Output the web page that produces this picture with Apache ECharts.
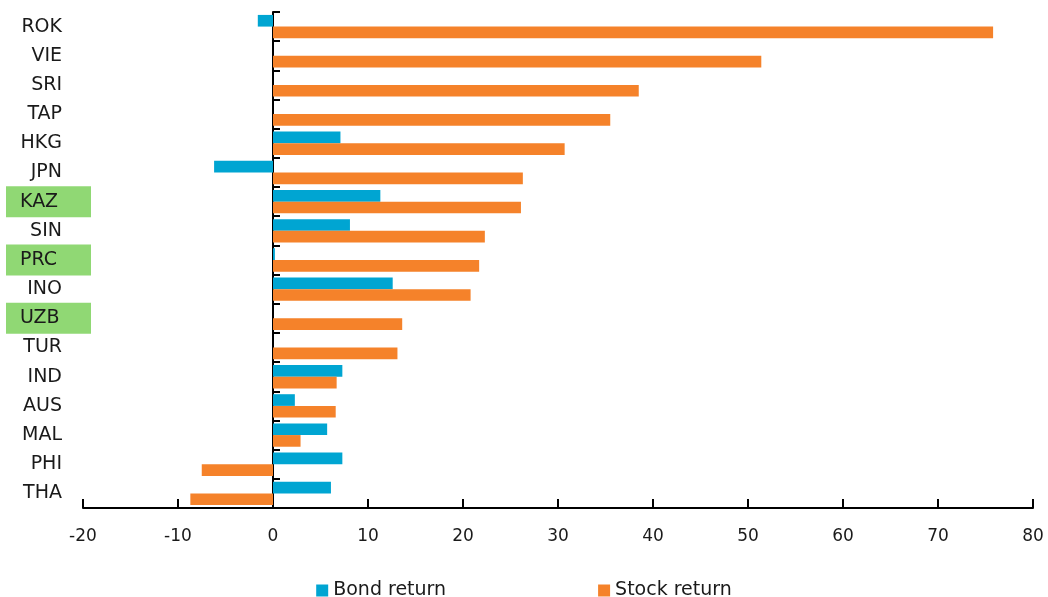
<!DOCTYPE html>
<html>
<head>
<meta charset="utf-8" />
<title>Bond and stock returns</title>
<script src="https://cdn.jsdelivr.net/npm/echarts@6/dist/echarts.min.js"></script>
<style>
  html, body { margin: 0; padding: 0; background: #fff; }
</style>
</head>
<body>
<div id="chart" style="width:1048px;height:597px;"></div>
<script type="text/javascript">
    // economies, top to bottom
    const economies = ['ROK', 'VIE', 'SRI', 'TAP', 'HKG', 'JPN', 'KAZ', 'SIN', 'PRC',
                       'INO', 'UZB', 'TUR', 'IND', 'AUS', 'MAL', 'PHI', 'THA'];
    const bondReturn = [-1.6, 0, 0, 0, 7.1, -6.2, 11.3, 8.1, 0.2,
                        12.6, 0, 0, 7.3, 2.3, 5.7, 7.3, 6.1];
    const stockReturn = [75.8, 51.4, 38.5, 35.5, 30.7, 26.3, 26.1, 22.3, 21.7,
                         20.8, 13.6, 13.1, 6.7, 6.6, 2.9, -7.5, -8.7];
    // labels with green background
    const highlighted = ['KAZ', 'PRC', 'UZB'];

    const fontFamily = 'DejaVu Sans';
    const textColor = '#1a1a1a';

    const myChart = echarts.init(document.getElementById('chart'));
    const option = {
        textStyle: { fontFamily: fontFamily },
        grid: { left: 83, right: 15, top: 12, bottom: 89 },
        legend: {
            left: 'center',
            top: 576,
            itemWidth: 12,
            itemHeight: 12,
            itemGap: 152,
            icon: 'rect',
            textStyle: { fontSize: 19, color: textColor, fontFamily: fontFamily },
            data: ['Bond return', 'Stock return']
        },
        xAxis: {
            type: 'value',
            min: -20,
            max: 80,
            interval: 10,
            splitLine: { show: false },
            axisLine: { show: true, lineStyle: { color: '#000', width: 2 } },
            axisTick: { show: true, inside: true, length: 9, lineStyle: { color: '#000', width: 2 } },
            axisLabel: { fontSize: 17, color: textColor, margin: 20, fontFamily: fontFamily }
        },
        yAxis: [{
            // label axis, left side
            type: 'category',
            inverse: true,
            data: economies,
            position: 'left',
            axisLine: { show: false, onZero: false },
            axisTick: { show: false },
            axisLabel: {
                margin: -8,
                formatter: function (v) {
                    return highlighted.indexOf(v) >= 0 ? '{hl|' + v + '}' : '{n|' + v + '}';
                },
                rich: {
                    n: { fontSize: 19, color: textColor, fontFamily: fontFamily, padding: [0, 29, 0, 0] },
                    hl: { fontSize: 19, color: textColor, fontFamily: fontFamily, backgroundColor: '#90D874',
                          width: 71, height: 31, align: 'left', padding: [0, 0, 0, 14] }
                }
            }
        }, {
            // vertical line at zero
            type: 'category',
            inverse: true,
            data: economies,
            position: 'left',
            axisLine: { show: true, onZero: true, lineStyle: { color: '#000', width: 2 } },
            axisTick: { show: true, inside: true, length: 7, lineStyle: { color: '#000', width: 2 } },
            axisLabel: { show: false }
        }],
        series: [{
            name: 'Bond return',
            type: 'bar',
            yAxisIndex: 0,
            data: bondReturn,
            barGap: '0%',
            barCategoryGap: '20%',
            itemStyle: { color: '#00A5D2' }
        }, {
            name: 'Stock return',
            type: 'bar',
            yAxisIndex: 0,
            data: stockReturn,
            barGap: '0%',
            barCategoryGap: '20%',
            itemStyle: { color: '#F5822A' }
        }]
    };
    myChart.setOption(option);
</script>
</body>
</html>
